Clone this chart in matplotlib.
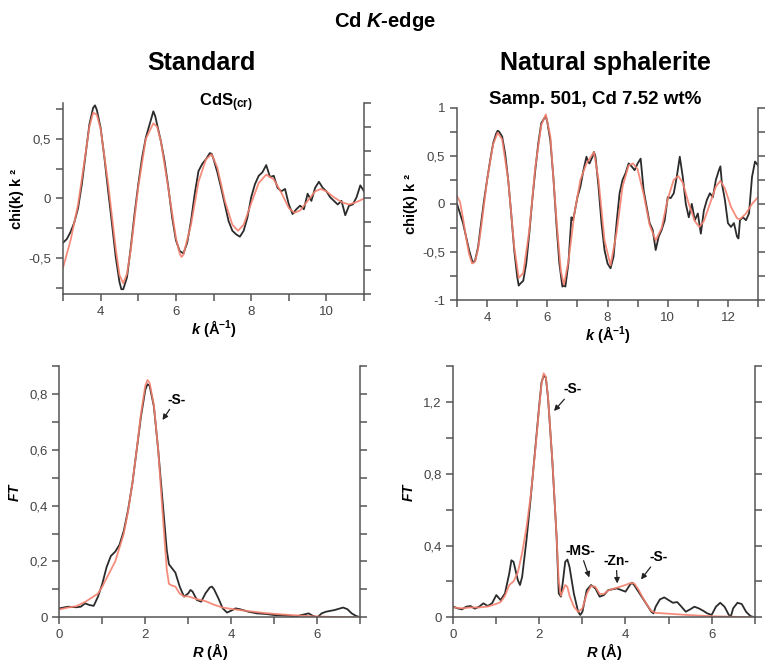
import matplotlib
matplotlib.use("Agg")
import matplotlib.pyplot as plt

plt.rcParams['font.family'] = ['Liberation Sans', 'DejaVu Sans']
plt.rcParams['mathtext.fontset'] = 'custom'
plt.rcParams['mathtext.rm'] = 'Liberation Sans:bold'
plt.rcParams['mathtext.bf'] = 'Liberation Sans:bold'
plt.rcParams['mathtext.it'] = 'Liberation Sans:bold:italic'

# ---- Standard CdS, chi(k) k^2 ----
std_k = [3.0, 3.1, 3.2, 3.3, 3.4, 3.5, 3.6, 3.7, 3.8, 3.85, 3.9, 4.0, 4.1, 4.2, 4.3, 4.4,
         4.5, 4.55, 4.6, 4.7, 4.8, 4.9, 5.0, 5.1, 5.2, 5.3, 5.4, 5.45, 5.5, 5.6, 5.7,
         5.8, 5.9, 6.0, 6.1, 6.2, 6.3, 6.4, 6.5, 6.6, 6.7, 6.8, 6.9, 6.95, 7.0, 7.1,
         7.2, 7.3, 7.4, 7.5, 7.6, 7.7, 7.8, 7.9, 8.0, 8.1, 8.2, 8.3, 8.4, 8.5, 8.6,
         8.7, 8.8, 8.9, 9.0, 9.1, 9.2, 9.3, 9.4, 9.5, 9.6, 9.7, 9.8, 9.9, 10.0, 10.1,
         10.2, 10.3, 10.4, 10.5, 10.6, 10.7, 10.8, 10.9, 11.0]
std_chi = [-0.37, -0.34, -0.28, -0.20, -0.08, 0.12, 0.37, 0.62, 0.76, 0.78, 0.74, 0.59,
           0.34, 0.06, -0.21, -0.49, -0.70, -0.76, -0.76, -0.66, -0.41, -0.13, 0.12,
           0.34, 0.51, 0.62, 0.73, 0.69, 0.62, 0.48, 0.31, 0.09, -0.16, -0.35, -0.44,
           -0.46, -0.37, -0.19, 0.04, 0.23, 0.29, 0.33, 0.38, 0.375, 0.33, 0.22, 0.09,
           -0.05, -0.19, -0.27, -0.30, -0.32, -0.27, -0.16, 0.01, 0.12, 0.19, 0.22,
           0.28, 0.18, 0.19, 0.09, 0.06, 0.08, -0.05, -0.13, -0.09, -0.06, -0.09, 0.04,
           -0.02, 0.09, 0.14, 0.09, 0.06, 0.01, -0.02, -0.05, -0.02, -0.14, -0.06,
           -0.05, 0.01, 0.11, 0.06]
std_fit_k = [3.0, 3.2, 3.4, 3.6, 3.7, 3.8, 3.9, 4.0, 4.2, 4.4, 4.5, 4.6, 4.7, 4.8, 5.0,
             5.2, 5.4, 5.5, 5.6, 5.8, 6.0, 6.1, 6.15, 6.2, 6.4, 6.6, 6.8, 6.95, 7.1,
             7.3, 7.5, 7.65, 7.8, 8.0, 8.2, 8.4, 8.6, 8.8, 9.0, 9.15, 9.3, 9.5, 9.7,
             9.85, 10.0, 10.2, 10.4, 10.6, 10.8, 11.0]
std_fit_chi = [-0.58, -0.35, -0.05, 0.38, 0.60, 0.72, 0.70, 0.58, 0.12, -0.42, -0.64,
               -0.71, -0.63, -0.43, 0.10, 0.50, 0.63, 0.60, 0.48, 0.08, -0.33, -0.46,
               -0.49, -0.47, -0.22, 0.14, 0.33, 0.37, 0.26, -0.02, -0.22, -0.27, -0.22,
               -0.04, 0.13, 0.20, 0.16, 0.05, -0.08, -0.12, -0.10, -0.02, 0.06, 0.08,
               0.06, 0.01, -0.03, -0.05, -0.03, 0.00]

# ---- Natural sphalerite, chi(k) k^2 ----
nat_k = [3.0, 3.1, 3.2, 3.3, 3.4, 3.5, 3.55, 3.6, 3.7, 3.8, 3.9, 4.0, 4.1, 4.2, 4.3,
         4.35, 4.4, 4.5, 4.6, 4.7, 4.8, 4.9, 5.0, 5.05, 5.1, 5.2, 5.3, 5.4, 5.5, 5.6,
         5.7, 5.8, 5.9, 5.95, 6.0, 6.1, 6.2, 6.3, 6.4, 6.5, 6.55, 6.6, 6.7, 6.8, 6.85,
         6.9, 7.0, 7.1, 7.2, 7.3, 7.35, 7.4, 7.5, 7.55, 7.6, 7.7, 7.8, 7.9, 8.0, 8.1,
         8.2, 8.3, 8.4, 8.5, 8.6, 8.7, 8.8, 8.9, 9.0, 9.1, 9.2, 9.3, 9.4, 9.5, 9.6,
         9.7, 9.8, 9.9, 10.0, 10.1, 10.2, 10.3, 10.4, 10.5, 10.6, 10.7, 10.8, 10.9,
         11.0, 11.1, 11.2, 11.3, 11.4, 11.5, 11.6, 11.7, 11.75, 11.8, 11.9, 12.0,
         12.1, 12.2, 12.3, 12.35, 12.4, 12.5, 12.6, 12.7, 12.8, 12.9, 13.0]
nat_chi = [0.0, -0.10, -0.20, -0.34, -0.48, -0.59, -0.61, -0.59, -0.45, -0.20, 0.04,
           0.25, 0.45, 0.63, 0.73, 0.76, 0.75, 0.70, 0.52, 0.25, -0.10, -0.48, -0.76,
           -0.85, -0.83, -0.80, -0.62, -0.31, 0.04, 0.35, 0.63, 0.84, 0.89, 0.91, 0.85,
           0.66, 0.28, -0.20, -0.62, -0.86, -0.85, -0.86, -0.62, -0.14, -0.17, -0.10,
           0.07, 0.18, 0.35, 0.49, 0.44, 0.42, 0.49, 0.54, 0.49, 0.18, -0.20, -0.48,
           -0.62, -0.67, -0.55, -0.20, 0.11, 0.25, 0.32, 0.42, 0.39, 0.35, 0.42, 0.47,
           0.14, -0.03, -0.20, -0.27, -0.48, -0.34, -0.27, -0.17, 0.07, 0.06, 0.11,
           0.28, 0.49, 0.28, 0.00, -0.14, 0.00, -0.17, -0.10, -0.31, -0.07, 0.04, 0.11,
           0.07, 0.25, 0.35, 0.39, 0.21, 0.04, -0.20, -0.24, -0.20, -0.34, -0.36, -0.17,
           -0.14, -0.17, -0.10, 0.28, 0.44, 0.40]
nat_fit_k = [3.0, 3.1, 3.2, 3.3, 3.4, 3.5, 3.6, 3.7, 3.8, 4.0, 4.2, 4.35, 4.5, 4.7, 4.9,
             5.05, 5.2, 5.4, 5.6, 5.8, 5.95, 6.1, 6.3, 6.45, 6.55, 6.7, 6.9, 7.1, 7.3,
             7.55, 7.7, 7.9, 8.1, 8.3, 8.5, 8.7, 8.85, 9.0, 9.2, 9.4, 9.6, 9.8, 10.0,
             10.2, 10.35, 10.5, 10.7, 10.9, 11.05, 11.2, 11.4, 11.6, 11.75, 11.9, 12.1,
             12.3, 12.4, 12.6, 12.8, 13.0]
nat_fit_chi = [0.08, 0.02, -0.15, -0.35, -0.52, -0.62, -0.60, -0.47, -0.25, 0.25, 0.62,
               0.74, 0.67, 0.25, -0.45, -0.77, -0.72, -0.28, 0.38, 0.82, 0.93, 0.70,
               -0.15, -0.70, -0.84, -0.60, -0.10, 0.25, 0.42, 0.54, 0.25, -0.38, -0.64,
               -0.30, 0.18, 0.40, 0.42, 0.36, 0.10, -0.22, -0.38, -0.25, 0.05, 0.25,
               0.29, 0.22, 0.00, -0.18, -0.24, -0.18, 0.00, 0.18, 0.24, 0.16, -0.03,
               -0.15, -0.16, -0.10, 0.00, 0.07]

# ---- Fourier transforms ----
std_r = [0.0, 0.2, 0.4, 0.5, 0.6, 0.7, 0.8, 0.9, 1.0, 1.1, 1.2, 1.3, 1.4, 1.5, 1.6, 1.7,
         1.8, 1.9, 2.0, 2.05, 2.1, 2.2, 2.3, 2.4, 2.5, 2.55, 2.6, 2.7, 2.8, 2.9, 3.0,
         3.05, 3.1, 3.2, 3.3, 3.4, 3.5, 3.55, 3.6, 3.7, 3.8, 3.9, 4.0, 4.1, 4.2, 4.4,
         4.6, 4.8, 5.0, 5.2, 5.4, 5.5, 5.6, 5.8, 5.9, 6.0, 6.1, 6.2, 6.4, 6.6, 6.7,
         6.8, 6.9, 7.0]
std_ft = [0.032, 0.038, 0.036, 0.038, 0.050, 0.044, 0.041, 0.074, 0.12, 0.18, 0.22,
          0.235, 0.26, 0.31, 0.385, 0.48, 0.60, 0.72, 0.815, 0.835, 0.83, 0.755, 0.60,
          0.42, 0.24, 0.19, 0.18, 0.16, 0.11, 0.074, 0.086, 0.098, 0.092, 0.062, 0.056,
          0.086, 0.107, 0.11, 0.10, 0.068, 0.032, 0.017, 0.024, 0.032, 0.029, 0.020,
          0.014, 0.012, 0.008, 0.007, 0.005, 0.002, 0.007, 0.014, 0.005, 0.0, 0.014,
          0.020, 0.026, 0.035, 0.029, 0.014, 0.005, 0.0]
std_fit_r = [0.0, 0.2, 0.4, 0.6, 0.8, 0.9, 1.0, 1.1, 1.2, 1.3, 1.4, 1.5, 1.6, 1.7, 1.8,
             1.9, 2.0, 2.05, 2.1, 2.2, 2.3, 2.4, 2.5, 2.55, 2.6, 2.7, 2.8, 2.9, 3.0,
             3.2, 3.4, 3.6, 3.8, 4.0, 4.4, 4.8, 5.2, 5.6, 6.0, 6.5, 7.0]
std_fit_ft = [0.028, 0.035, 0.040, 0.055, 0.075, 0.085, 0.11, 0.14, 0.17, 0.20, 0.25,
              0.30, 0.38, 0.48, 0.60, 0.73, 0.83, 0.85, 0.84, 0.76, 0.60, 0.38, 0.17,
              0.12, 0.115, 0.11, 0.085, 0.075, 0.075, 0.065, 0.058, 0.045, 0.035, 0.03,
              0.022, 0.015, 0.01, 0.006, 0.003, 0.001, 0.0]

nat_r = [0.0, 0.1, 0.2, 0.3, 0.4, 0.5, 0.6, 0.7, 0.8, 0.9, 1.0, 1.1, 1.2, 1.3, 1.35,
         1.4, 1.5, 1.55, 1.6, 1.7, 1.8, 1.9, 2.0, 2.05, 2.1, 2.15, 2.2, 2.3, 2.4, 2.45,
         2.5, 2.55, 2.6, 2.65, 2.7, 2.8, 2.9, 2.95, 3.0, 3.1, 3.2, 3.3, 3.4, 3.5, 3.6,
         3.7, 3.8, 3.9, 4.0, 4.1, 4.15, 4.2, 4.3, 4.4, 4.5, 4.6, 4.65, 4.7, 4.8, 4.9,
         5.0, 5.1, 5.2, 5.3, 5.4, 5.5, 5.6, 5.7, 5.8, 5.9, 6.0, 6.1, 6.2, 6.3, 6.4,
         6.45, 6.5, 6.6, 6.7, 6.8, 6.9, 7.0]
nat_ft = [0.059, 0.05, 0.044, 0.059, 0.063, 0.048, 0.059, 0.078, 0.063, 0.078, 0.124,
          0.096, 0.133, 0.244, 0.318, 0.309, 0.207, 0.18, 0.226, 0.43, 0.67, 0.93, 1.19,
          1.31, 1.346, 1.337, 1.226, 0.874, 0.448, 0.133, 0.115, 0.207, 0.309, 0.322,
          0.281, 0.133, 0.031, 0.013, 0.031, 0.152, 0.18, 0.161, 0.115, 0.124, 0.152,
          0.156, 0.161, 0.152, 0.143, 0.18, 0.193, 0.18, 0.143, 0.106, 0.069, 0.031,
          0.022, 0.059, 0.10, 0.111, 0.096, 0.081, 0.085, 0.059, 0.031, 0.044, 0.059,
          0.05, 0.037, 0.022, 0.013, 0.059, 0.081, 0.059, 0.013, 0.007, 0.05, 0.081,
          0.074, 0.031, 0.007, 0.0]
nat_fit_r = [0.0, 0.2, 0.4, 0.6, 0.8, 1.0, 1.1, 1.2, 1.3, 1.4, 1.5, 1.6, 1.7, 1.8, 1.9,
             2.0, 2.05, 2.1, 2.15, 2.2, 2.3, 2.4, 2.45, 2.5, 2.55, 2.6, 2.65, 2.7, 2.8,
             2.9, 3.0, 3.1, 3.2, 3.3, 3.4, 3.5, 3.6, 3.8, 4.0, 4.1, 4.2, 4.3, 4.4, 4.5,
             4.6, 4.7, 5.0, 5.5, 6.0, 6.5, 7.0]
nat_fit_ft = [0.055, 0.05, 0.055, 0.055, 0.06, 0.075, 0.085, 0.12, 0.18, 0.20, 0.25,
              0.36, 0.50, 0.68, 0.92, 1.18, 1.30, 1.36, 1.34, 1.23, 0.88, 0.45, 0.20,
              0.12, 0.15, 0.18, 0.17, 0.12, 0.06, 0.03, 0.05, 0.13, 0.175, 0.17, 0.13,
              0.13, 0.15, 0.165, 0.18, 0.19, 0.19, 0.155, 0.11, 0.07, 0.035, 0.025,
              0.02, 0.012, 0.006, 0.003, 0.0]

DATA_COLOR = "#2b2b2b"
FIT_COLOR = "#f4806e"
AXIS_COLOR = "#555555"
TICK_TEXT = "#444444"
LW = 1.3


def style_axes(ax, xlim, ylim, xmajor, xminor, xlabels, ymajor, yminor, ylabels, right_ticks):
    """Open frame: left, bottom and right spines, ticks pointing out."""
    ax.set_xlim(xlim)
    ax.set_ylim(ylim)
    ax.spines['top'].set_visible(False)
    ax.spines['right'].set_visible(False)
    for side in ('left', 'bottom'):
        ax.spines[side].set_color(AXIS_COLOR)
        ax.spines[side].set_linewidth(1.1)
    ax.set_xticks(xmajor)
    ax.set_xticklabels(xlabels)
    ax.set_xticks(xminor, minor=True)
    ax.set_yticks(ymajor)
    ax.set_yticklabels(ylabels)
    ax.set_yticks(yminor, minor=True)
    ax.tick_params(which='both', direction='out', length=5, width=1.1,
                   color=AXIS_COLOR, labelsize=9.5, labelcolor=TICK_TEXT)

    # right hand axis only carries tick marks
    ax2 = ax.twinx()
    ax2.set_ylim(ylim)
    for side in ('left', 'top', 'bottom'):
        ax2.spines[side].set_visible(False)
    ax2.spines['right'].set_color(AXIS_COLOR)
    ax2.spines['right'].set_linewidth(1.1)
    ax2.set_yticks(right_ticks)
    ax2.tick_params(direction='out', length=5, width=1.1, color=AXIS_COLOR,
                    labelright=False)


fig = plt.figure(figsize=(7.65, 6.61), dpi=100)

# top left: chi(k) standard
ax_tl = fig.add_axes([0.0824, 0.5552, 0.3935, 0.289])
ax_tl.plot(std_k, std_chi, color=DATA_COLOR, lw=LW)
ax_tl.plot(std_fit_k, std_fit_chi, color=FIT_COLOR, lw=LW, alpha=0.9)
style_axes(ax_tl, (3, 11), (-0.8, 0.8),
           [4, 6, 8, 10], [3, 5, 7, 9, 11], ["4", "6", "8", "10"],
           [-0.5, 0, 0.5], [-0.75, -0.25, 0.25, 0.75], ["-0,5", "0", "0,5"],
           [-0.8, -0.6, -0.4, -0.2, 0, 0.2, 0.4, 0.6, 0.8])
ax_tl.set_ylabel("chi(k) k ²", fontsize=10.5, fontweight='bold', labelpad=3)
ax_tl.set_xlabel(r"$k$ (Å$^{-1}$)", fontsize=10.5, fontweight='bold', labelpad=0)
ax_tl.text(0.54, 1.0, r"CdS$_{\mathrm{(cr)}}$", transform=ax_tl.transAxes,
           ha='center', va='center', fontsize=12, fontweight='bold')

# top right: chi(k) natural sphalerite
ax_tr = fig.add_axes([0.5974, 0.5461, 0.3935, 0.291])
ax_tr.plot(nat_k, nat_chi, color=DATA_COLOR, lw=LW)
ax_tr.plot(nat_fit_k, nat_fit_chi, color=FIT_COLOR, lw=LW, alpha=0.9)
style_axes(ax_tr, (3, 13), (-1, 1),
           [4, 6, 8, 10, 12], [3, 5, 7, 9, 11, 13], ["4", "6", "8", "10", "12"],
           [-1, -0.5, 0, 0.5, 1], [-0.75, -0.25, 0.25, 0.75], ["-1", "-0,5", "0", "0,5", "1"],
           [-1, -0.75, -0.5, -0.25, 0, 0.25, 0.5, 0.75, 1])
ax_tr.set_ylabel("chi(k) k ²", fontsize=10.5, fontweight='bold', labelpad=3)
ax_tr.set_xlabel(r"$k$ (Å$^{-1}$)", fontsize=10.5, fontweight='bold', labelpad=0)

# bottom left: FT standard
ax_bl = fig.add_axes([0.0775, 0.0661, 0.3935, 0.380])
ax_bl.plot(std_r, std_ft, color=DATA_COLOR, lw=LW)
ax_bl.plot(std_fit_r, std_fit_ft, color=FIT_COLOR, lw=LW, alpha=0.9)
style_axes(ax_bl, (0, 7), (0, 0.9),
           [0, 2, 4, 6], [1, 3, 5, 7], ["0", "2", "4", "6"],
           [0, 0.2, 0.4, 0.6, 0.8], [0.1, 0.3, 0.5, 0.7, 0.9], ["0", "0,2", "0,4", "0,6", "0,8"],
           [0, 0.1, 0.2, 0.3, 0.4, 0.5, 0.6, 0.7, 0.8, 0.9])
ax_bl.set_ylabel(r"$FT$", fontsize=10, labelpad=5)
ax_bl.set_xlabel(r"$R$ (Å)", fontsize=10.5, fontweight='bold', labelpad=0)

# bottom right: FT natural sphalerite
ax_br = fig.add_axes([0.5925, 0.0661, 0.394, 0.380])
ax_br.plot(nat_r, nat_ft, color=DATA_COLOR, lw=LW)
ax_br.plot(nat_fit_r, nat_fit_ft, color=FIT_COLOR, lw=LW, alpha=0.9)
style_axes(ax_br, (0, 7), (0, 1.4),
           [0, 2, 4, 6], [1, 3, 5, 7], ["0", "2", "4", "6"],
           [0, 0.4, 0.8, 1.2], [0.2, 0.6, 1.0, 1.4], ["0", "0,4", "0,8", "1,2"],
           [0, 0.2, 0.4, 0.6, 0.8, 1.0, 1.2, 1.4])
ax_br.set_ylabel(r"$FT$", fontsize=10, labelpad=5)
ax_br.set_xlabel(r"$R$ (Å)", fontsize=10.5, fontweight='bold', labelpad=0)

# peak annotations
arrow = dict(arrowstyle='-|>', color='#222222', lw=0.9, mutation_scale=8, shrinkA=0, shrinkB=0)
ax_bl.annotate("-S-", xy=(2.40, 0.707), xytext=(2.72, 0.78), ha='center', va='center',
               fontsize=10, fontweight='bold', arrowprops=arrow)
ax_br.annotate("-S-", xy=(2.34, 1.15), xytext=(2.78, 1.27), ha='center', va='center',
               fontsize=10, fontweight='bold', arrowprops=arrow)
ax_br.annotate("-MS-", xy=(3.16, 0.222), xytext=(2.95, 0.37), ha='center', va='center',
               fontsize=10, fontweight='bold', arrowprops=arrow)
ax_br.annotate("-Zn-", xy=(3.81, 0.189), xytext=(3.78, 0.315), ha='center', va='center',
               fontsize=10, fontweight='bold', arrowprops=arrow)
ax_br.annotate("-S-", xy=(4.36, 0.211), xytext=(4.76, 0.335), ha='center', va='center',
               fontsize=10, fontweight='bold', arrowprops=arrow)

# headings
fig.text(0.503, 0.967, r"Cd $K$-edge", ha='center', va='center', fontsize=14.5, fontweight='bold')
fig.text(0.263, 0.905, "Standard", ha='center', va='center', fontsize=18, fontweight='bold')
fig.text(0.791, 0.905, "Natural sphalerite", ha='center', va='center', fontsize=18,
         fontweight='bold')
fig.text(0.778, 0.850, "Samp. 501, Cd 7.52 wt%", ha='center', va='center', fontsize=13.5,
         fontweight='bold')

fig.savefig("out.png", dpi=100)
